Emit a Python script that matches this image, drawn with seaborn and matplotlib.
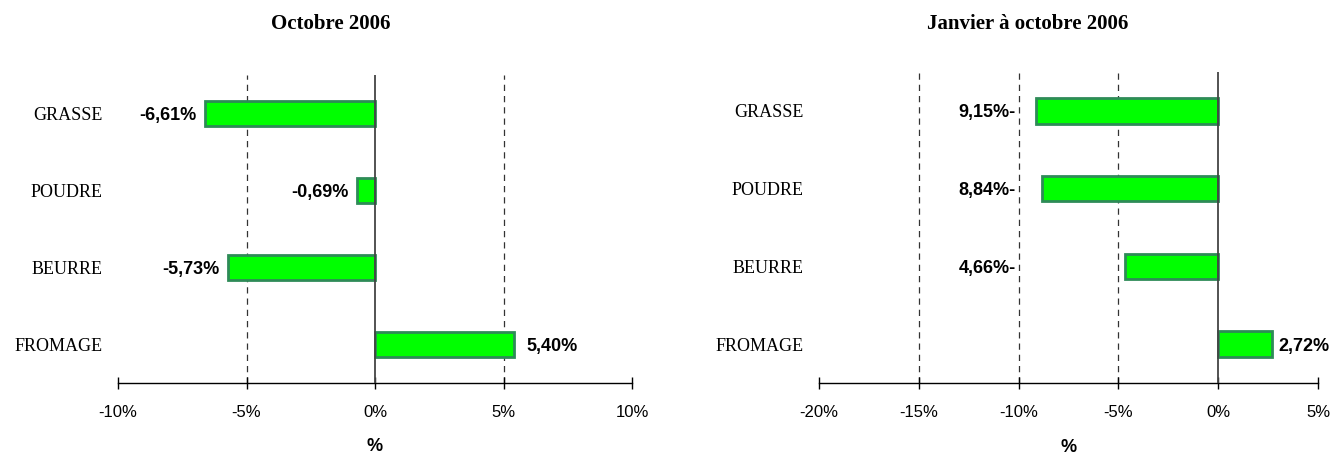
import matplotlib
matplotlib.use("Agg")
import matplotlib.pyplot as plt
import seaborn as sns
import pandas as pd

# ---- data ----
categories = ["GRASSE", "POUDRE", "BEURRE", "FROMAGE"]
oct_values = [-6.61, -0.69, -5.73, 5.40]
ytd_values = [-9.15, -8.84, -4.66, 2.72]
title_left = "Octobre 2006"
title_right = "Janvier à octobre 2006"
left_ticks = [-10, -5, 0, 5, 10]
right_ticks = [-20, -15, -10, -5, 0, 5]
left_grid = [-5, 5]
right_grid = [-15, -10, -5]

sns.set_theme(style="white")
plt.rcParams["font.family"] = ["Liberation Sans", "DejaVu Sans"]
plt.rcParams["text.color"] = "black"

fig = plt.figure(figsize=(13.31, 4.55), dpi=100)
W, H = 1331, 455

def frac_axes(x0, x1, ytop, ybot):
    return fig.add_axes([x0 / W, 1 - ybot / H, (x1 - x0) / W, (ybot - ytop) / H])

ax1 = frac_axes(118, 632, 75, 383)
ax2 = frac_axes(819, 1318, 72, 383)

BAR = "#00ff00"
EDGE = "#2e8b57"

def draw(ax, values, ticks, grid, xlim):
    df = pd.DataFrame({"cat": categories, "val": values})
    sns.barplot(data=df, x="val", y="cat", ax=ax, color=BAR, saturation=1,
                edgecolor=EDGE, linewidth=2, width=0.33, orient="h")
    ax.set_xlim(*xlim)
    ax.set_ylim(len(categories) - 0.5, -0.5)
    for g in grid:
        ax.axvline(g, color="#333333", lw=0.9, ls=(0, (5, 4)), zorder=0)
    ax.axvline(0, color="#444444", lw=1.3, zorder=3)
    for s in ["top", "right", "left"]:
        ax.spines[s].set_visible(False)
    ax.spines["bottom"].set_color("black")
    ax.spines["bottom"].set_linewidth(1.0)
    ax.set_xticks(ticks)
    ax.set_xticklabels([f"{t}%" for t in ticks])
    ax.tick_params(axis="x", direction="inout", length=8, width=1, color="black",
                   pad=12, labelsize=12, bottom=True, labelcolor="black")
    ax.tick_params(axis="y", length=0, pad=11, labelcolor="black")
    for lab in ax.get_yticklabels():
        lab.set_fontfamily("Liberation Serif")
        lab.set_fontsize(13)
    ax.set_ylabel("")
    ax.set_xlabel("%", fontsize=13, fontweight="bold", color="black")
    ax.xaxis.set_label_coords(0.5, -0.18)
    ax.patch.set_alpha(0)

draw(ax1, oct_values, left_ticks, left_grid, (-10, 10))
draw(ax2, ytd_values, right_ticks, right_grid, (-20, 5))

def fmt(v):
    return f"{v:.2f}".replace(".", ",") + "%"

LBL = dict(fontsize=13, fontweight="bold", color="black", va="center_baseline")

# left labels
for i, v in enumerate(oct_values):
    if v < 0:
        ax1.annotate(fmt(v), (v, i), xytext=(-6, 0), textcoords="offset points",
                     ha="right", **LBL)
    else:
        ax1.annotate(fmt(v), (v, i), xytext=(9, 0), textcoords="offset points",
                     ha="left", **LBL)

# right labels
for i, v in enumerate(ytd_values):
    if v < 0:
        ax2.text(-10.15, i, fmt(abs(v)) + "-", ha="right", **LBL)
    else:
        ax2.annotate(fmt(v), (v, i), xytext=(4, 0), textcoords="offset points",
                     ha="left", **LBL)

fig.text(331 / W, 1 - 24 / H, title_left, ha="center", va="center",
         fontsize=15, fontweight="bold", family="Liberation Serif", color="black")
fig.text(1028 / W, 1 - 24 / H, title_right, ha="center", va="center",
         fontsize=15, fontweight="bold", family="Liberation Serif", color="black")

fig.savefig("out.png", dpi=100)
